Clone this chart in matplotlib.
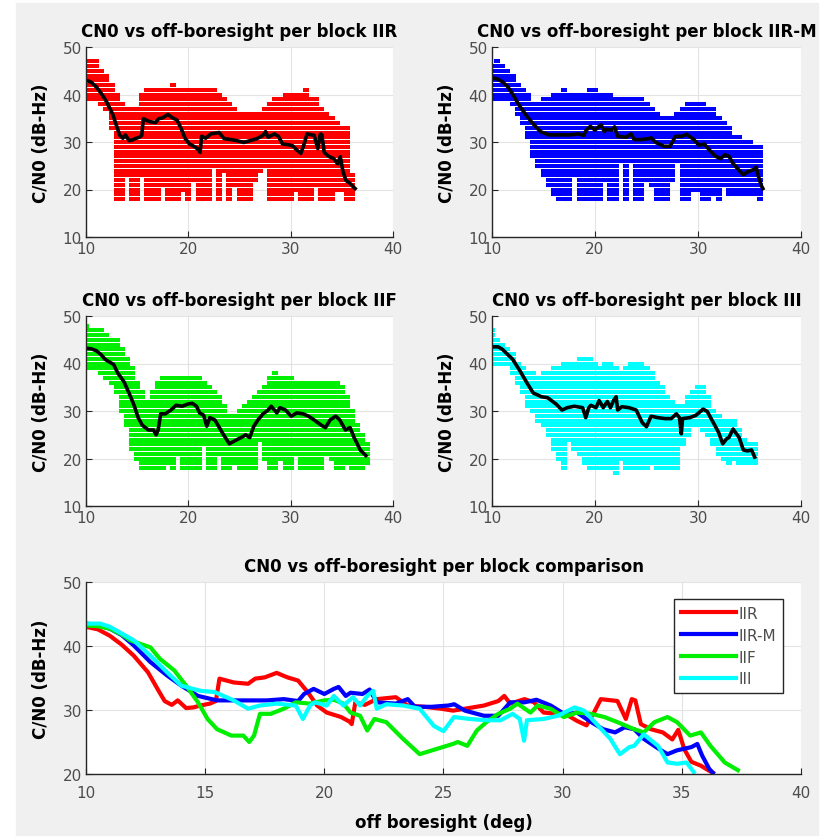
import numpy as np
import matplotlib as mpl
mpl.use('Agg')
import matplotlib.pyplot as plt
from matplotlib.patches import Rectangle

plt.rcParams['font.family'] = ['DejaVu Sans']

# ---- scatter envelopes (C/N0 range of the samples in each 0.5 deg bin) ----
x_iir = np.arange(10, 36.01, 0.5)
lo_iir = [39, 39, 39, 38, 37, 33, 18, 18, 23, 18, 18, 23, 18, 18, 18, 21, 18, 18, 18, 20,
          18, 22, 18, 18, 18, 25, 18, 24, 18, 21, 18, 18, 18, 22, 24, 25, 18, 18, 18, 18,
          18, 20, 18, 18, 18, 21, 18, 18, 18, 20, 20, 18, 18]
hi_iir = [47, 47, 47, 45, 44, 42, 40, 38, 37, 37, 37, 40, 41, 41, 41, 41, 41, 42, 41, 41,
          41, 41, 41, 41, 41, 41, 40, 39, 38, 37, 36, 36, 36, 36, 36, 37, 38, 39, 39, 40,
          40, 40, 40, 41, 39, 39, 37, 36, 35, 34, 33, 33, 23]

x_iirm = np.arange(10, 36.01, 0.5)
lo_iirm = [39, 39, 39, 39, 38, 36, 34, 31, 27, 25, 23, 21, 19, 18, 18, 18, 23, 18, 18, 18,
           18, 18, 22, 18, 18, 26, 18, 26, 18, 18, 22, 21, 18, 18, 18, 22, 26, 18, 18, 20,
           20, 18, 18, 19, 18, 21, 19, 19, 19, 19, 19, 19, 18]
hi_iirm = [46, 47, 46, 45, 44, 42, 41, 40, 38, 38, 39, 39, 40, 40, 41, 40, 40, 40, 40, 41,
           41, 40, 40, 40, 39, 39, 39, 39, 39, 39, 38, 37, 36, 35, 35, 35, 36, 37, 38, 38,
           38, 38, 37, 37, 35, 34, 33, 31, 31, 30, 30, 29, 29]

x_iif = np.arange(10, 37.51, 0.5)
lo_iif = [39, 39, 39, 38, 37, 36, 34, 30, 27, 22, 20, 18, 18, 18, 18, 18, 19, 18, 21, 18,
          18, 18, 18, 23, 18, 18, 21, 18, 18, 19, 18, 18, 18, 18, 24, 20, 18, 18, 20, 18,
          18, 21, 18, 18, 18, 18, 18, 21, 20, 18, 18, 19, 18, 18, 18, 19]
hi_iif = [48, 47, 47, 47, 46, 45, 45, 43, 41, 39, 36, 34, 32, 34, 36, 37, 37, 37, 37, 37,
          37, 37, 37, 36, 35, 34, 33, 31, 29, 29, 30, 31, 32, 33, 34, 35, 37, 38, 37, 37,
          37, 36, 36, 36, 36, 36, 36, 36, 36, 36, 35, 33, 30, 27, 25, 23]

x_iii = np.arange(10, 35.51, 0.5)
lo_iii = [40, 40, 40, 40, 38, 36, 34, 31, 30, 28, 27, 25, 22, 20, 18, 24, 22, 21, 19, 18,
          18, 18, 18, 18, 17, 20, 18, 18, 18, 18, 18, 19, 18, 18, 18, 18, 18, 23, 25, 27,
          27, 26, 25, 23, 21, 20, 19, 20, 19, 19, 19, 19]
hi_iii = [47, 45, 44, 43, 42, 40, 39, 38, 38, 37, 38, 38, 39, 39, 40, 40, 40, 41, 41, 41,
          40, 39, 40, 40, 39, 38, 39, 40, 40, 40, 39, 38, 36, 35, 33, 32, 31, 31, 33, 34,
          35, 35, 33, 30, 29, 28, 28, 28, 26, 24, 23, 23]

# ---- mean C/N0 curves ----
mx_iir = [10.0, 10.5, 11.0, 11.5, 12.0, 12.6, 13.0, 13.3, 13.6, 13.85, 14.2, 14.5, 14.8, 15.2,
          15.45, 15.6, 16.2, 16.8, 17.1, 17.5, 18.0, 18.45, 18.9, 19.3, 19.7, 20.1, 20.7, 21.05,
          21.15, 21.3, 21.7, 22.2, 23.0, 23.5, 24.2, 24.9, 25.4, 25.9, 26.7, 27.3, 27.55, 27.8,
          28.4, 28.8, 29.2, 29.8, 30.2, 30.6, 31.0, 31.3, 31.6, 32.3, 32.65, 32.9, 33.05, 33.28,
          33.7, 34.2, 34.6, 34.85, 35.1, 35.4, 35.8, 36.1, 36.3]
my_iir = [43.0, 42.6, 41.6, 40.2, 38.5, 35.9, 33.3, 31.4, 30.8, 31.5, 30.3, 30.4, 30.7, 31.0,
          31.4, 34.9, 34.3, 34.1, 34.9, 35.1, 35.8, 35.1, 34.6, 32.8, 30.7, 29.6, 28.9, 28.2,
          27.8, 31.2, 30.8, 31.7, 32.0, 30.7, 30.5, 30.2, 29.9, 30.2, 30.7, 31.4, 32.2, 31.0,
          31.7, 31.2, 29.6, 29.4, 29.2, 28.3, 27.6, 29.5, 31.7, 31.4, 28.6, 31.7, 31.5, 27.8,
          27.0, 26.5, 25.4, 26.9, 23.9, 21.9, 21.3, 20.6, 20.2]

mx_iirm = [10.0, 10.5, 11.0, 11.5, 12.0, 12.7, 13.4, 14.0, 14.7, 15.5, 16.2, 17.0, 17.6, 18.3,
           18.9, 19.15, 19.55, 20.0, 20.4, 20.6, 20.9, 21.1, 21.6, 21.9, 22.2, 23.0, 23.5, 23.8,
           24.5, 25.2, 25.45, 25.9, 26.7, 27.3, 27.8, 28.4, 28.9, 29.5, 30.1, 30.6, 31.2, 31.7,
           32.2, 32.6, 33.0, 33.4, 34.0, 34.4, 34.8, 35.4, 35.65, 35.85, 36.15, 36.3]
my_iirm = [43.5, 43.3, 42.7, 41.7, 40.1, 37.5, 35.4, 33.8, 32.2, 31.5, 31.5, 31.5, 31.5, 31.7,
           31.4, 32.5, 33.3, 32.5, 33.3, 33.6, 32.2, 32.7, 32.5, 33.2, 31.2, 31.0, 31.7, 30.5,
           30.5, 30.7, 30.9, 29.9, 29.1, 29.1, 31.2, 31.2, 31.6, 30.7, 29.3, 29.6, 28.1, 27.0,
           26.5, 27.3, 27.0, 25.5, 24.0, 23.1, 23.7, 24.2, 24.7, 22.9, 20.8, 20.2]

mx_iif = [10.0, 10.5, 11.0, 11.5, 11.85, 12.3, 12.7, 13.1, 13.7, 14.2, 14.7, 15.1, 15.5, 16.1,
          16.6, 16.85, 17.05, 17.3, 17.75, 18.3, 18.8, 19.4, 20.0, 20.4, 20.8, 21.1, 21.5, 21.8,
          22.1, 22.6, 23.3, 24.0, 24.7, 25.4, 25.6, 26.0, 26.4, 26.8, 27.3, 27.8, 28.1, 28.65,
          28.95, 29.5, 30.05, 30.6, 31.2, 31.75, 32.3, 33.0, 33.4, 33.85, 34.4, 34.8, 35.35,
          35.8, 36.2, 36.8, 37.35]
my_iif = [43.2, 43.1, 42.7, 41.8, 40.9, 40.3, 39.8, 38.0, 36.2, 33.8, 31.2, 28.6, 27.0, 26.0,
          26.0, 25.0, 26.0, 29.4, 29.4, 30.2, 31.2, 31.0, 31.5, 31.6, 31.0, 29.6, 29.1, 26.8,
          28.6, 28.1, 25.5, 23.1, 23.9, 24.7, 25.0, 24.4, 26.8, 28.1, 29.4, 30.2, 31.0, 29.6,
          30.7, 30.2, 28.9, 29.6, 29.4, 28.9, 28.1, 27.0, 26.5, 28.1, 28.9, 28.1, 26.0,
          26.5, 24.4, 21.8, 20.6]

mx_iii = [10.0, 10.6, 11.0, 12.0, 12.7, 13.4, 14.0, 14.8, 15.4, 16.2, 16.8, 17.3, 18.0, 18.8,
          19.1, 19.4, 19.6, 20.1, 20.4, 20.8, 21.2, 21.5, 21.8, 22.05, 22.2, 22.6, 23.3, 24.0,
          24.6, 25.0, 25.44, 26.1, 26.8, 27.4, 27.9, 28.2, 28.38, 28.5, 29.2, 29.8, 30.5, 30.9,
          31.5, 32.0, 32.4, 32.8, 33.0, 33.4, 34.0, 34.4, 34.8, 35.2, 35.5]
my_iii = [43.5, 43.5, 43.0, 40.9, 38.5, 35.9, 33.8, 33.0, 32.8, 31.5, 30.2, 30.7, 31.0, 30.7,
          28.6, 30.7, 31.2, 30.7, 32.2, 30.7, 32.0, 30.7, 32.2, 33.0, 30.2, 30.9, 30.7, 30.2,
          27.5, 26.7, 28.9, 28.6, 28.4, 28.4, 29.4, 28.6, 25.2, 28.4, 28.6, 29.1, 30.4, 29.9,
          27.5, 25.5, 23.1, 24.2, 24.4, 26.2, 24.4, 21.8, 21.6, 21.8, 20.3]

blocks = ['IIR', 'IIR-M', 'IIF', 'III']
colors = ['#ff0000', '#0000ff', '#00ee00', '#00ffff']
clouds = [(x_iir, lo_iir, hi_iir), (x_iirm, lo_iirm, hi_iirm),
          (x_iif, lo_iif, hi_iif), (x_iii, lo_iii, hi_iii)]
means = [(mx_iir, my_iir), (mx_iirm, my_iirm), (mx_iif, my_iif), (mx_iii, my_iii)]

W, H = 833, 837
fig = plt.figure(figsize=(W / 100, H / 100), dpi=100, facecolor='white')
fig.patches.append(Rectangle((16 / W, 0), (818 - 16) / W, (837 - 4) / H,
                             transform=fig.transFigure, color='#f0f0f0', zorder=-10))

tick_col = '#4d4d4d'
# sample marker: a flat cell (wider than tall) so each C/N0 level shows as a stripe
cell = [(-1, -0.66), (1, -0.66), (1, 0.66), (-1, 0.66)]


def style_axes(ax, xt, yt, xpad=3):
    ax.set_facecolor('white')
    ax.spines['top'].set_visible(False)
    ax.spines['right'].set_visible(False)
    for s in ('left', 'bottom'):
        ax.spines[s].set_color('#262626')
        ax.spines[s].set_linewidth(1.0)
    ax.set_xticks(xt)
    ax.set_yticks(yt)
    ax.set_xlim(xt[0], xt[-1])
    ax.set_ylim(yt[0], yt[-1])
    ax.tick_params(direction='in', length=4, width=0.8, color='#262626',
                   labelcolor=tick_col, labelsize=11, pad=3)
    ax.tick_params(axis='x', pad=xpad)
    ax.grid(True, color='#e3e3e3', lw=0.8)
    ax.set_axisbelow(True)
    ax.set_ylabel('C/N0 (dB-Hz)', fontsize=12, fontweight='bold', labelpad=9)


# axes boxes in pixels: left, top, right, bottom
boxes = [(86, 48, 393, 238), (492, 48, 801, 238), (86, 317, 393, 507), (492, 317, 801, 507)]

for i, (blk, col) in enumerate(zip(blocks, colors)):
    l, t, r, b = boxes[i]
    ax = fig.add_axes([l / W, 1 - b / H, (r - l) / W, (b - t) / H])
    style_axes(ax, [10, 20, 30, 40], [10, 20, 30, 40, 50])
    xk, lo, hi = clouds[i]
    xs, ys = [], []
    for xv, a, c in zip(xk, lo, hi):
        for yv in range(a, c + 1):
            xs.append(xv)
            ys.append(yv)
    ax.plot(xs, ys, ls='none', marker=cell, ms=4.2, mew=0, color=col)
    ax.plot(means[i][0], means[i][1], color='black', lw=2.6)
    ax.set_title('CN0 vs off-boresight per block ' + blk, fontsize=12,
                 fontweight='bold', pad=8)

# comparison panel
l, t, r, b = 86, 583, 801, 775
ax = fig.add_axes([l / W, 1 - b / H, (r - l) / W, (b - t) / H])
style_axes(ax, [10, 15, 20, 25, 30, 35, 40], [20, 30, 40, 50], xpad=8)
for (mx, my), blk, col in zip(means, blocks, colors):
    ax.plot(mx, my, color=col, lw=3.0, label=blk)
ax.set_title('CN0 vs off-boresight per block comparison', fontsize=12,
             fontweight='bold', pad=8)
ax.set_xlabel('off boresight (deg)', fontsize=12, fontweight='bold', labelpad=9)
leg = ax.legend(loc='upper right', bbox_to_anchor=(0.975, 0.912), borderaxespad=0,
                fancybox=False, framealpha=1, edgecolor='#262626', fontsize=11,
                handlelength=3.6, handletextpad=0.2, labelspacing=0.45,
                borderpad=0.45)
leg.get_frame().set_linewidth(1.0)
for txt in leg.get_texts():
    txt.set_color(tick_col)

fig.savefig('out.png', dpi=100, facecolor=fig.get_facecolor())
